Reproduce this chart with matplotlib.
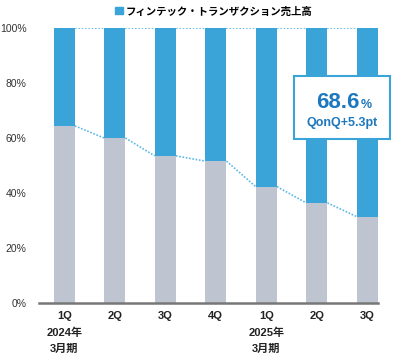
import matplotlib
matplotlib.use("Agg")
import matplotlib.pyplot as plt
from matplotlib.patches import Rectangle
from matplotlib.text import Annotation
import numpy as np

plt.rcParams['font.family'] = ['Liberation Sans', 'Noto Sans CJK JP', 'DejaVu Sans']

# data
quarters = ["1Q\n2024年\n3月期", "2Q", "3Q", "4Q", "1Q\n2025年\n3月期", "2Q", "3Q"]
fintech_share = [35.6, 40.0, 46.5, 48.4, 57.7, 63.6, 68.6]
other_share = [100 - v for v in fintech_share]
legend_label = "フィンテック・トランザクション売上高"
callout_value = "68.6"
callout_sub = "QonQ+5.3pt"

blue = "#3AA3D8"
gray = "#BEC5D1"
line_blue = "#5DB8E6"
text_blue = "#1E78BE"

fig = plt.figure(figsize=(4.0, 3.53), dpi=100)
ax = fig.add_axes([0.0975, 0.1416, 0.8475, 0.7791])

x = np.arange(len(quarters))
w = 0.42
ax.bar(x, other_share, width=w, color=gray, zorder=2)
ax.bar(x, fintech_share, width=w, bottom=other_share, color=blue, zorder=2,
       label=legend_label)

# dotted connectors between bars
tops = [o + f for o, f in zip(other_share, fintech_share)]
for i in range(len(x) - 1):
    ax.plot([x[i] + w / 2, x[i + 1] - w / 2], [other_share[i], other_share[i + 1]],
            ls=(0, (1, 1)), color=line_blue, lw=1.2, zorder=3)
    ax.plot([x[i] + w / 2, x[i + 1] - w / 2], [tops[i], tops[i + 1]],
            ls=(0, (1, 1)), color=line_blue, lw=1.2, zorder=3)

ax.set_xlim(-0.5, len(x) - 1 + w / 2)
ax.set_ylim(0, 100)
ax.set_yticks(range(0, 101, 20))
ax.set_yticklabels([f"{v}%" for v in range(0, 101, 20)], fontsize=7.5, color="#333333")
ax.set_xticks(x)
ax.set_xticklabels(quarters, fontsize=8, fontweight="bold", linespacing=1.75,
                   va="top", color="#222222")
ax.tick_params(axis="both", length=0)
ax.tick_params(axis="x", pad=6)
ax.tick_params(axis="y", pad=9)
for s in ["top", "right", "left"]:
    ax.spines[s].set_visible(False)
ax.spines["bottom"].set_color("#777777")
ax.spines["bottom"].set_linewidth(1.8)
ax.spines["bottom"].set_zorder(4)

leg = fig.legend(handles=[Rectangle((0, 0), 1, 1, color=blue)], labels=[legend_label],
                 loc="center", bbox_to_anchor=(0.535, 0.968), frameon=False,
                 handlelength=0.7, handleheight=0.7, handletextpad=0.3,
                 prop={"size": 7.5, "weight": "bold"})

# callout box
box = Rectangle((294 / 400, 1 - 139 / 353), 96 / 400, 63 / 353,
                transform=fig.transFigure, facecolor="white", edgecolor=blue,
                lw=1.5, zorder=5)
fig.patches.append(box)
t = fig.text(0.844, 1 - 102 / 353, callout_value, fontsize=16, fontweight="bold",
             color=text_blue, ha="center", va="center", zorder=6)
pct = Annotation("%", xy=(1, 0.08), xycoords=t, xytext=(1, 0), textcoords="offset points",
                 fontsize=9, fontweight="bold", color=text_blue, ha="left", va="bottom",
                 annotation_clip=False, zorder=6)
fig.add_artist(pct)
fig.text(0.856, 1 - 123 / 353, callout_sub, fontsize=9, fontweight="bold",
         color=text_blue, ha="center", va="center", zorder=6)

fig.savefig("out.png", dpi=100)
